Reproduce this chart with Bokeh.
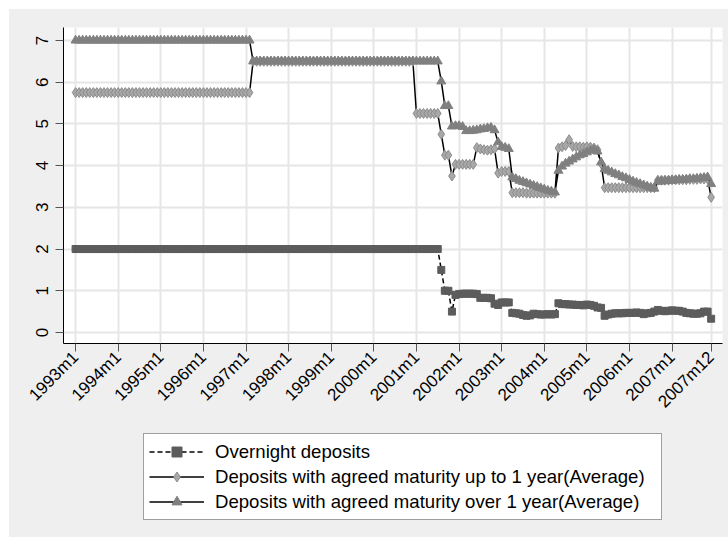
import math
from bokeh.plotting import figure
from bokeh.layouts import column
from bokeh.models import (ColumnDataSource, FixedTicker, Legend, LegendItem, Range1d)
from bokeh.embed import file_html
from bokeh.resources import INLINE

# ---- data: monthly, index 0 = 1993m1 ... 179 = 2007m12 ----
months = list(range(180))

overnight = [
    2.0, 2.0, 2.0, 2.0, 2.0, 2.0, 2.0, 2.0, 2.0, 2.0, 2.0, 2.0,   # 1993
    2.0, 2.0, 2.0, 2.0, 2.0, 2.0, 2.0, 2.0, 2.0, 2.0, 2.0, 2.0,   # 1994
    2.0, 2.0, 2.0, 2.0, 2.0, 2.0, 2.0, 2.0, 2.0, 2.0, 2.0, 2.0,   # 1995
    2.0, 2.0, 2.0, 2.0, 2.0, 2.0, 2.0, 2.0, 2.0, 2.0, 2.0, 2.0,   # 1996
    2.0, 2.0, 2.0, 2.0, 2.0, 2.0, 2.0, 2.0, 2.0, 2.0, 2.0, 2.0,   # 1997
    2.0, 2.0, 2.0, 2.0, 2.0, 2.0, 2.0, 2.0, 2.0, 2.0, 2.0, 2.0,   # 1998
    2.0, 2.0, 2.0, 2.0, 2.0, 2.0, 2.0, 2.0, 2.0, 2.0, 2.0, 2.0,   # 1999
    2.0, 2.0, 2.0, 2.0, 2.0, 2.0, 2.0, 2.0, 2.0, 2.0, 2.0, 2.0,   # 2000
    2.0, 2.0, 2.0, 2.0, 2.0, 2.0, 2.0, 1.5, 1.0, 1.0, 0.5, 0.9,   # 2001
    0.92, 0.93, 0.93, 0.93, 0.93, 0.92, 0.83, 0.83, 0.83, 0.82, 0.69, 0.66,  # 2002
    0.72, 0.72, 0.72, 0.47, 0.46, 0.45, 0.42, 0.40, 0.41, 0.45, 0.44, 0.43,  # 2003
    0.43, 0.44, 0.43, 0.44, 0.70, 0.68, 0.68, 0.67, 0.67, 0.66, 0.66, 0.65,  # 2004
    0.67, 0.66, 0.64, 0.60, 0.59, 0.40, 0.43, 0.45, 0.46, 0.46, 0.46, 0.47,  # 2005
    0.47, 0.47, 0.48, 0.47, 0.44, 0.46, 0.47, 0.50, 0.54, 0.52, 0.51, 0.52,  # 2006
    0.53, 0.52, 0.52, 0.50, 0.47, 0.46, 0.45, 0.45, 0.46, 0.50, 0.50, 0.33,  # 2007
]

upto1y = [
    5.75, 5.75, 5.75, 5.75, 5.75, 5.75, 5.75, 5.75, 5.75, 5.75, 5.75, 5.75,  # 1993
    5.75, 5.75, 5.75, 5.75, 5.75, 5.75, 5.75, 5.75, 5.75, 5.75, 5.75, 5.75,  # 1994
    5.75, 5.75, 5.75, 5.75, 5.75, 5.75, 5.75, 5.75, 5.75, 5.75, 5.75, 5.75,  # 1995
    5.75, 5.75, 5.75, 5.75, 5.75, 5.75, 5.75, 5.75, 5.75, 5.75, 5.75, 5.75,  # 1996
    5.75, 5.75, 6.5, 6.5, 6.5, 6.5, 6.5, 6.5, 6.5, 6.5, 6.5, 6.5,            # 1997
    6.5, 6.5, 6.5, 6.5, 6.5, 6.5, 6.5, 6.5, 6.5, 6.5, 6.5, 6.5,              # 1998
    6.5, 6.5, 6.5, 6.5, 6.5, 6.5, 6.5, 6.5, 6.5, 6.5, 6.5, 6.5,              # 1999
    6.5, 6.5, 6.5, 6.5, 6.5, 6.5, 6.5, 6.5, 6.5, 6.5, 6.5, 6.5,              # 2000
    5.25, 5.25, 5.25, 5.25, 5.25, 5.25, 5.25, 4.75, 4.25, 4.25, 3.75, 4.03,  # 2001
    4.03, 4.03, 4.03, 4.03, 4.03, 4.43, 4.40, 4.38, 4.37, 4.38, 4.40, 3.82,  # 2002
    3.86, 3.86, 3.86, 3.35, 3.35, 3.35, 3.35, 3.34, 3.34, 3.34, 3.34, 3.34,  # 2003
    3.34, 3.34, 3.34, 3.34, 4.42, 4.45, 4.48, 4.62, 4.46, 4.45, 4.45, 4.44,  # 2004
    4.45, 4.44, 4.42, 4.38, 4.05, 3.47, 3.47, 3.47, 3.47, 3.47, 3.47, 3.47,  # 2005
    3.47, 3.47, 3.47, 3.47, 3.47, 3.47, 3.47, 3.47, 3.65, 3.65, 3.65, 3.65,  # 2006
    3.66, 3.66, 3.66, 3.66, 3.66, 3.67, 3.67, 3.67, 3.68, 3.68, 3.68, 3.24,  # 2007
]

over1y = [
    7.0, 7.0, 7.0, 7.0, 7.0, 7.0, 7.0, 7.0, 7.0, 7.0, 7.0, 7.0,   # 1993
    7.0, 7.0, 7.0, 7.0, 7.0, 7.0, 7.0, 7.0, 7.0, 7.0, 7.0, 7.0,   # 1994
    7.0, 7.0, 7.0, 7.0, 7.0, 7.0, 7.0, 7.0, 7.0, 7.0, 7.0, 7.0,   # 1995
    7.0, 7.0, 7.0, 7.0, 7.0, 7.0, 7.0, 7.0, 7.0, 7.0, 7.0, 7.0,   # 1996
    7.0, 7.0, 6.5, 6.5, 6.5, 6.5, 6.5, 6.5, 6.5, 6.5, 6.5, 6.5,   # 1997
    6.5, 6.5, 6.5, 6.5, 6.5, 6.5, 6.5, 6.5, 6.5, 6.5, 6.5, 6.5,   # 1998
    6.5, 6.5, 6.5, 6.5, 6.5, 6.5, 6.5, 6.5, 6.5, 6.5, 6.5, 6.5,   # 1999
    6.5, 6.5, 6.5, 6.5, 6.5, 6.5, 6.5, 6.5, 6.5, 6.5, 6.5, 6.5,   # 2000
    6.5, 6.5, 6.5, 6.5, 6.5, 6.5, 6.5, 6.02, 5.43, 5.43, 4.94, 4.95,  # 2001
    4.95, 4.93, 4.83, 4.83, 4.84, 4.85, 4.87, 4.88, 4.90, 4.91, 4.85, 4.56,  # 2002
    4.45, 4.43, 4.40, 3.72, 3.68, 3.64, 3.61, 3.58, 3.55, 3.52, 3.49, 3.46,  # 2003
    3.43, 3.40, 3.38, 3.36, 3.88, 3.98, 4.05, 4.10, 4.15, 4.20, 4.25, 4.28,  # 2004
    4.32, 4.36, 4.38, 4.34, 4.08, 3.92, 3.88, 3.84, 3.80, 3.77, 3.73, 3.70,  # 2005
    3.66, 3.62, 3.59, 3.56, 3.53, 3.50, 3.47, 3.45, 3.62, 3.62, 3.63, 3.64,  # 2006
    3.64, 3.65, 3.66, 3.66, 3.67, 3.68, 3.68, 3.69, 3.70, 3.71, 3.72, 3.56,  # 2007
]

x_ticks = [0, 12, 24, 36, 48, 60, 72, 84, 96, 108, 120, 132, 144, 156, 168, 179]
x_labels = ["1993m1", "1994m1", "1995m1", "1996m1", "1997m1", "1998m1", "1999m1",
            "2000m1", "2001m1", "2002m1", "2003m1", "2004m1", "2005m1", "2006m1",
            "2007m1", "2007m12"]
y_ticks = [0, 1, 2, 3, 4, 5, 6, 7]

series_names = ["Overnight deposits",
                "Deposits with agreed maturity up to 1 year(Average)",
                "Deposits with agreed maturity over 1 year(Average)"]

FONT = "Liberation Sans"
BG = "#efefef"

styles = [
    dict(line=dict(line_color="black", line_width=1.5, line_dash="5 3"),
         mark=dict(marker="square", size=7, fill_color="#5c5c5c", line_color="#5c5c5c")),
    dict(line=dict(line_color="black", line_width=1.5),
         mark=dict(marker="diamond", size=10, fill_color="#a8a8a8", line_color="#8c8c8c",
                   line_width=1)),
    dict(line=dict(line_color="black", line_width=1.5),
         mark=dict(marker="triangle", size=9, fill_color="#808080", line_color="#808080")),
]

src = ColumnDataSource(dict(x=months, ov=overnight, up=upto1y, o1=over1y))
cols = ["ov", "up", "o1"]

# ---------------- main chart ----------------
p = figure(width=719, height=416, output_backend="svg", toolbar_location=None,
           x_range=Range1d(-3.4, 182.2), y_range=Range1d(-0.264, 7.31),
           min_border_left=54, min_border_right=6, min_border_top=18,
           min_border_bottom=82)
p.margin = (9, 0, 0, 9)
p.styles = {"background-color": BG}
p.background_fill_color = "white"
p.border_fill_color = BG
p.outline_line_color = None

p.xgrid.ticker = FixedTicker(ticks=x_ticks)
p.ygrid.ticker = FixedTicker(ticks=y_ticks)
for g in (p.xgrid, p.ygrid):
    g.grid_line_color = "#e6e6e6"
    g.grid_line_width = 2

p.xaxis.ticker = FixedTicker(ticks=x_ticks)
p.xaxis.major_label_overrides = {t: l for t, l in zip(x_ticks, x_labels)}
p.xaxis.major_label_orientation = math.pi / 4
p.yaxis.ticker = FixedTicker(ticks=y_ticks)
p.yaxis.major_label_orientation = "vertical"
for ax in (p.xaxis, p.yaxis):
    ax.axis_line_color = "black"
    ax.axis_line_width = 1
    ax.major_tick_line_color = "#555555"
    ax.major_tick_line_width = 1
    ax.major_tick_in = 0
    ax.major_tick_out = 8
    ax.minor_tick_line_color = None
    ax.major_label_text_font = FONT
    ax.major_label_text_font_size = "17px"
    ax.major_label_text_color = "black"
p.xaxis.major_label_standoff = 3
p.yaxis.major_label_standoff = 7

for col, st in zip(cols, styles):
    p.line("x", col, source=src, **st["line"])
    p.scatter("x", col, source=src, **st["mark"])

# ---------------- legend strip (its view range shows none of the data) ----------------
q = figure(width=719, height=112, output_backend="svg", toolbar_location=None,
           x_axis_location=None, y_axis_location=None,
           x_range=Range1d(1000, 1001), y_range=Range1d(1000, 1001),
           min_border_left=0, min_border_right=0, min_border_top=0, min_border_bottom=0)
q.margin = (0, 0, 0, 9)
q.styles = {"background-color": BG}
q.grid.visible = False
q.outline_line_color = None
q.background_fill_alpha = 0
q.border_fill_alpha = 0

items = []
for name, col, st in zip(series_names, cols, styles):
    rl = q.line("x", col, source=src, **st["line"])
    rm = q.scatter("x", col, source=src, **st["mark"])
    items.append(LegendItem(label=name, renderers=[rl, rm]))

# the column aligns this strip's frame with the chart's frame (left edge at 63px)
legend = Legend(items=items, location=(80, 17))
legend.label_text_font = FONT
legend.label_text_font_size = "18.6px"
legend.label_text_color = "black"
legend.glyph_width = 55
legend.glyph_height = 25
legend.label_height = 25
legend.label_width = 441
legend.label_standoff = 11
legend.spacing = 0
legend.padding = 5
legend.margin = 0
legend.border_line_color = "#404040"
legend.border_line_width = 1
legend.background_fill_color = "white"
legend.background_fill_alpha = 1
q.add_layout(legend, "center")

layout = column(p, q, spacing=0)
open("out.html", "w").write(file_html(layout, INLINE))
